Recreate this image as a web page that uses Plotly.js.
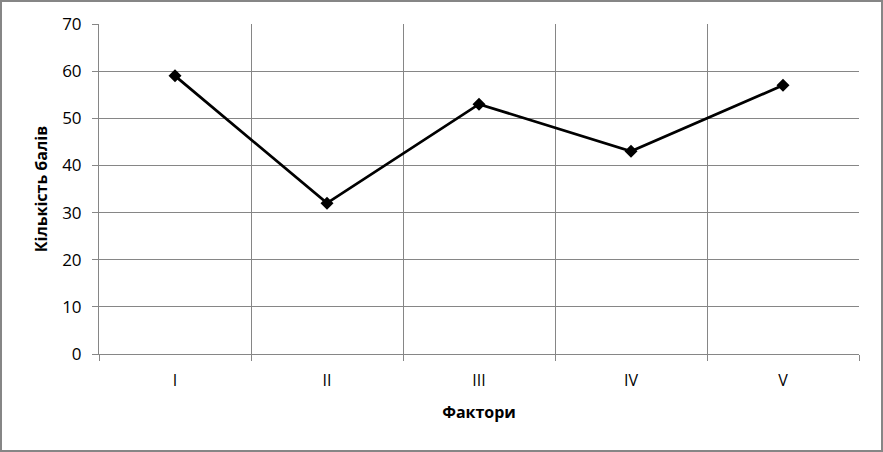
<!DOCTYPE html>
<html>
<head>
<meta charset="utf-8">
<script src="https://cdn.plot.ly/plotly-3.0.1.min.js"></script>
<style>
html,body{margin:0;padding:0;background:#fff;}
#wrap{width:879px;height:448px;border:2px solid #868686;}
#chart{width:879px;height:448px;}
</style>
</head>
<body>
<div id="wrap"><div id="chart"></div></div>
<script>
const categories = ["I", "II", "III", "IV", "V"];
const values = [59, 32, 53, 43, 57];
const yTicks = [0, 10, 20, 30, 40, 50, 60, 70];

const trace = {
  x: categories,
  y: values,
  type: "scatter",
  mode: "lines+markers",
  line: {color: "#000000", width: 2.75},
  marker: {symbol: "diamond", size: 10, color: "#000000"},
  hoverinfo: "skip",
  cliponaxis: false
};

const layout = {
  width: 879,
  height: 448,
  margin: {l: 97, r: 22, t: 22, b: 96},
  paper_bgcolor: "#ffffff",
  plot_bgcolor: "#ffffff",
  showlegend: false,
  font: {family: "Open Sans, Noto Sans, sans-serif", size: 16, color: "#000000"},
  xaxis: {
    type: "category",
    range: [-0.5, 4.5],
    autorange: false,
    tickson: "boundaries",
    showgrid: true,
    gridcolor: "#868686",
    gridwidth: 1,
    showline: true,
    linecolor: "#868686",
    linewidth: 1,
    ticks: "outside",
    ticklen: 6,
    tickcolor: "#868686",
    ticklabelstandoff: 12,
    tickfont: {size: 16, color: "#000000"},
    zeroline: false,
    title: {text: "<b>Фактори</b>", font: {size: 16, color: "#000000"}, standoff: 16}
  },
  yaxis: {
    range: [0, 70],
    autorange: false,
    tickvals: yTicks,
    showgrid: true,
    gridcolor: "#868686",
    gridwidth: 1,
    showline: true,
    linecolor: "#868686",
    linewidth: 1,
    ticks: "outside",
    ticklen: 6,
    tickcolor: "#868686",
    ticklabelstandoff: 7,
    tickfont: {size: 17, color: "#000000"},
    zeroline: false,
    title: {text: "<b>Кількість балів</b>", font: {size: 16, color: "#000000"}, standoff: 10}
  }
};

Plotly.newPlot("chart", [trace], layout, {staticPlot: true, displayModeBar: false});
</script>
</body>
</html>
